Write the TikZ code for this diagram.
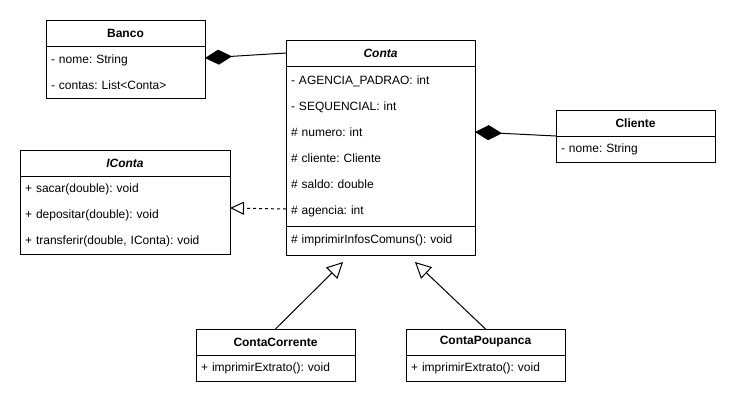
\documentclass[tikz,border=0pt]{standalone}
\usepackage{fontspec}
\setmainfont{Liberation Sans}
\usepackage{tikz}
\usetikzlibrary{arrows.meta,positioning}
\frenchspacing

\begin{document}
\begin{tikzpicture}[x=1pt, y=-1pt, line width=1pt,
  hdr/.style={draw, outer sep=0pt, inner xsep=5pt, minimum height=26pt, align=center, font=\fontsize{12}{14}\selectfont\bfseries},
  rows/.style={draw, outer sep=0pt, inner xsep=5pt, align=left, font=\fontsize{12}{26}\selectfont},
  comp/.style={{Diamond[length=27pt,width=15pt]}-},
  real/.style={-{Triangle[open,length=14pt,width=13pt]}, dash pattern=on 3pt off 3pt},
  gen/.style={-{Triangle[open,length=16pt,width=16pt]}}]
\useasboundingbox (0,0) rectangle (736,405);
% classes
\node[hdr, text width=149pt, anchor=north west] (banco) at (46,20) {Banco};
\node[rows, text width=149pt, minimum height=52pt, below=0pt of banco] (bancoAtt) {- nome: String\\- contas: List<Conta>};
\node[hdr, text width=179pt, anchor=north west, font=\fontsize{12}{14}\selectfont\bfseries\itshape] (conta) at (286,40) {Conta};
\node[rows, text width=179pt, minimum height=160pt, below=0pt of conta] (contaAtt) {- AGENCIA\_PADRAO: int\\- SEQUENCIAL: int\\\# numero: int\\\# cliente: Cliente\\\# saldo: double\\\# agencia: int};
\node[rows, text width=179pt, minimum height=29pt, below=0pt of contaAtt] (contaOp) {\# imprimirInfosComuns(): void};
\node[hdr, text width=149pt, anchor=north west] (cliente) at (556,110) {Cliente};
\node[rows, text width=149pt, minimum height=26pt, below=0pt of cliente] (clienteAtt) {- nome: String};
\node[hdr, text width=200pt, anchor=north west, font=\fontsize{12}{14}\selectfont\bfseries\itshape] (iconta) at (20,150) {IConta};
\node[rows, text width=200pt, minimum height=78pt, below=0pt of iconta] (icontaOp) {+ sacar(double): void\\+ depositar(double): void\\+ transferir(double, IConta): void};
\node[hdr, text width=149pt, anchor=north west] (corrente) at (196,329) {ContaCorrente};
\node[rows, text width=149pt, minimum height=26pt, below=0pt of corrente] (correnteOp) {+ imprimirExtrato(): void};
\node[hdr, text width=149pt, anchor=north west] (poupanca) at (406,329) {ContaPoupanca};
\node[rows, text width=149pt, minimum height=26pt, below=0pt of poupanca] (poupancaOp) {+ imprimirExtrato(): void};
% relations
\draw[comp] ([yshift=-12pt]bancoAtt.north east) -- (conta.west);
\draw[comp] ([yshift=-66pt]contaAtt.north east) -- (cliente.south west);
\draw[real] ([yshift=-143pt]contaAtt.north west) -- ([yshift=-32pt]icontaOp.north east);
\draw[gen] (corrente.north) -- ([xshift=57pt, yshift=-7pt]contaOp.south west);
\draw[gen] (poupanca.north) -- ([xshift=129pt, yshift=-7pt]contaOp.south west);
\end{tikzpicture}
\end{document}
